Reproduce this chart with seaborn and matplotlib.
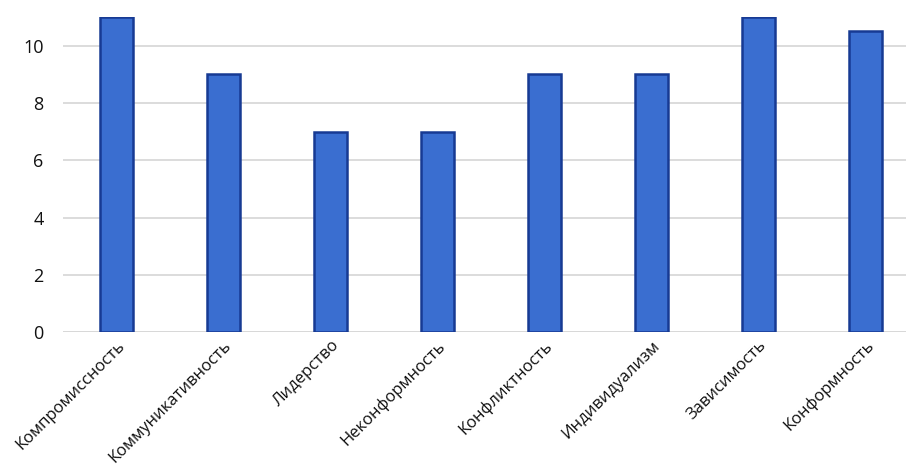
import seaborn as sns
import pandas as pd
import matplotlib.pyplot as plt

categories = ['Компромиссность', 'Коммуникативность', 'Лидерство', 'Неконформность',
              'Конфликтность', 'Индивидуализм', 'Зависимость', 'Конформность']
values = [11, 9, 7, 7, 9, 9, 11, 10.5]

df = pd.DataFrame({'trait': categories, 'score': values})

sns.set_theme(style='white')
plt.rcParams['font.family'] = ['Open Sans', 'DejaVu Sans']

fig = plt.figure(figsize=(9.06, 4.75), dpi=100)
ax = fig.add_axes([0.0695, 0.301, 0.9305, 0.663])

sns.barplot(data=df, x='trait', y='score', ax=ax, color='#3a6ed0',
            width=0.31, edgecolor='#173a93', linewidth=1.8, saturation=1)

ax.set_ylim(0, 11)
ax.set_xlim(-0.5, 7.38)
ax.set_yticks([0, 2, 4, 6, 8, 10])
ax.yaxis.grid(True, color='#d9d9d9', linewidth=1.3)
ax.set_axisbelow(True)
for s in ax.spines.values():
    s.set_visible(False)
ax.axhline(0, color='#d0d0d0', linewidth=1.3, zorder=0)
ax.set_xlabel('')
ax.set_ylabel('')
ax.tick_params(axis='y', labelsize=13, pad=14, length=0, colors='#111111')
ax.tick_params(axis='x', labelsize=12, pad=4, length=0, colors='#111111')
plt.setp(ax.get_xticklabels(), rotation=45, ha='right', rotation_mode='anchor')

plt.savefig('out.png', dpi=100)
